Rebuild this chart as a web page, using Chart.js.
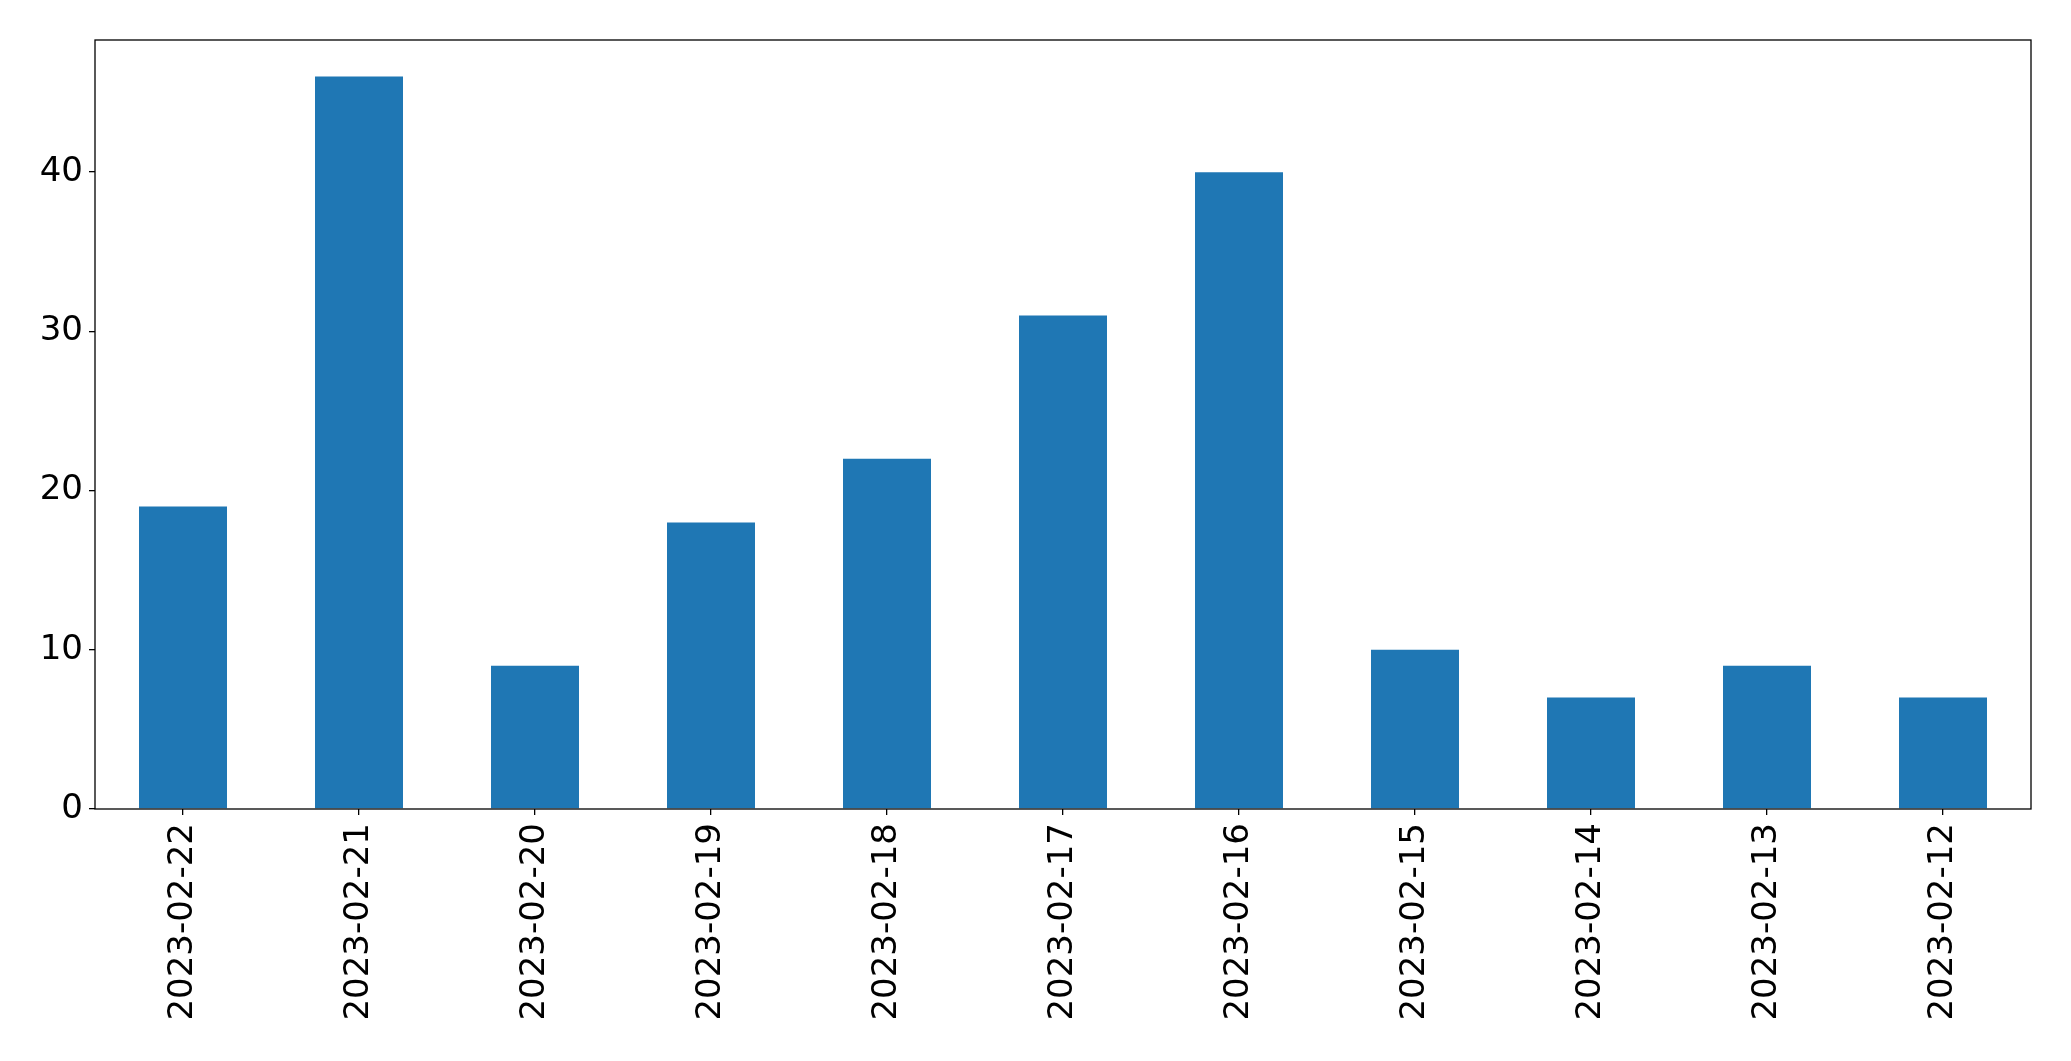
<!DOCTYPE html>
<html>
<head>
<meta charset="utf-8">
<script src="https://cdn.jsdelivr.net/npm/chart.js@4"></script>
<style>
  html, body { margin: 0; padding: 0; background: #fff; }
  canvas { display: block; }
</style>
</head>
<body>
<canvas id="myChart" width="2071" height="1061"></canvas>
<script>
var dates = ['2023-02-22', '2023-02-21', '2023-02-20', '2023-02-19', '2023-02-18', '2023-02-17',
             '2023-02-16', '2023-02-15', '2023-02-14', '2023-02-13', '2023-02-12'];
var counts = [19, 46, 9, 18, 22, 31, 40, 10, 7, 9, 7];
var yTicks = [0, 10, 20, 30, 40];

// box around the plot area, like the matplotlib frame
var frame = {
    id: 'frame',
    afterDraw: function(chart) {
        var a = chart.chartArea, c = chart.ctx;
        c.save();
        c.strokeStyle = '#000';
        c.lineWidth = 1.3;
        c.strokeRect(a.left, a.top, a.right - a.left, a.bottom - a.top);
        c.restore();
    }
};

var ctx = document.getElementById('myChart').getContext('2d');
var chart = new Chart(ctx, {
    type: 'bar',
    data: {
        labels: dates,
        datasets: [{
            data: counts,
            backgroundColor: '#1f77b4',
            barPercentage: 0.5,
            categoryPercentage: 1.0
        }]
    },
    options: {
        responsive: false,
        animation: false,
        devicePixelRatio: 1,
        layout: { padding: { left: 0, top: 40, right: 40, bottom: 0 } },
        plugins: { legend: { display: false }, tooltip: { enabled: false } },
        scales: {
            x: {
                grid: { offset: false, drawOnChartArea: false, drawTicks: true, tickLength: 6, color: '#000', lineWidth: 1.3 },
                border: { display: false },
                ticks: {
                    color: '#000',
                    font: { family: 'DejaVu Sans', size: 34 },
                    minRotation: 90,
                    maxRotation: 90,
                    padding: 8,
                    autoSkip: false
                },
                afterFit: function(s) { s.height = 1061 - 809; }
            },
            y: {
                min: 0,
                max: 48.3,
                grid: { drawOnChartArea: false, drawTicks: true, tickLength: 6, color: '#000', lineWidth: 1.3 },
                border: { display: false },
                ticks: {
                    color: '#000',
                    font: { family: 'DejaVu Sans', size: 34 },
                    padding: 6
                },
                afterBuildTicks: function(s) {
                    s.ticks = yTicks.map(function(v) { return { value: v }; });
                },
                afterFit: function(s) { s.width = 95; }
            }
        }
    },
    plugins: [frame]
});
</script>
</body>
</html>
